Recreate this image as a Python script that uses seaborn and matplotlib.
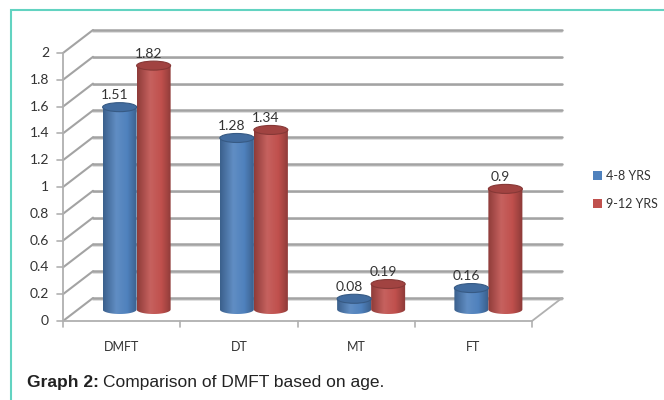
import numpy as np
import pandas as pd
import matplotlib
matplotlib.use("Agg")
import matplotlib.pyplot as plt
import seaborn as sns
from matplotlib.patches import Ellipse, Rectangle, PathPatch, Patch
from matplotlib.path import Path
from matplotlib.colors import LinearSegmentedColormap, to_rgb

# ---- data ----
categories = ["DMFT", "DT", "MT", "FT"]
groups = ["4-8 YRS", "9-12 YRS"]
values_4_8 = [1.51, 1.28, 0.08, 0.16]
values_9_12 = [1.82, 1.34, 0.19, 0.90]
y_ticks = [0, 0.2, 0.4, 0.6, 0.8, 1.0, 1.2, 1.4, 1.6, 1.8, 2.0]
y_tick_labels = ["0", "0.2", "0.4", "0.6", "0.8", "1", "1.2", "1.4", "1.6", "1.8", "2"]
caption_bold = "Graph 2:"
caption_text = "Comparison of DMFT based on age."

df = pd.DataFrame({
    "category": categories * 2,
    "group": [groups[0]] * 4 + [groups[1]] * 4,
    "value": values_4_8 + values_9_12,
})

sns.set_theme(style="white")
plt.rcParams["font.family"] = ["Lato", "DejaVu Sans"]

W, H = 664, 400
fig = plt.figure(figsize=(W / 100, H / 100), dpi=100)
ax = fig.add_axes([0, 0, 1, 1])

# pixel scale of the chart's middle (bar) plane
sx = 117.25          # px per category
sy = 134.0           # px per value unit
x0_px = 78.0         # left edge of bar plane, px from left
y0_px = 90.5         # value 0 of bar plane, px from bottom
xmin = -0.5 - x0_px / sx
ymin = -y0_px / sy

# depth offset between bar plane and front/back planes
dx = 15 / sx
dy = 11.5 / sy

palette = ["#4F81BD", "#C0504D"]
sns.barplot(data=df, x="category", y="value", hue="group", palette=palette,
            saturation=1, width=0.58, errorbar=None, legend=False, ax=ax, zorder=3)

grid_c = "#a3a3a3"
shadow_c = "#d9d9d9"
axis_c = "#b0b0b0"
text_c = "#333333"

# back wall gridlines
for t in y_ticks:
    ax.plot([-0.5 + dx, 3.5 + dx], [t + dy - 1.6 / sy] * 2, color=shadow_c, lw=1.2, zorder=1)
    ax.plot([-0.5 + dx, 3.5 + dx], [t + dy] * 2, color=grid_c, lw=1.8, zorder=1.1)
    # left wall diagonals
    ax.plot([-0.5 - dx, -0.5 + dx], [t - dy, t + dy], color=grid_c, lw=1.5, zorder=1.1)
    # tick marks on the front axis
    ax.plot([-0.5 - dx - 6 / sx, -0.5 - dx], [t - dy] * 2, color=axis_c, lw=1.2, zorder=1.1)
for t, lab in zip(y_ticks, y_tick_labels):
    ax.text(-0.5 - dx - 14 / sx, t - dy, lab, ha="right", va="center",
            fontsize=10, color=text_c)

# front vertical axis
ax.plot([-0.5 - dx] * 2, [-dy, 2 - dy], color=axis_c, lw=1.3, zorder=1.2)
# floor: front edge and right edge
ax.plot([-0.5 - dx, 3.5 - dx], [-dy, -dy], color=axis_c, lw=1.3, zorder=1.2)
ax.plot([3.5 - dx, 3.5 + dx], [-dy, dy], color=axis_c, lw=1.3, zorder=1.2)
for k in range(5):
    xk = -0.5 + k - dx
    ax.plot([xk, xk], [-dy, -dy - 6 / sy], color=axis_c, lw=1.2, zorder=1.2)

# category labels on the front plane
for i, c in enumerate(categories):
    ax.text(i - dx, (53 - y0_px) / sy, c, ha="center", va="center",
            fontsize=9, color=text_c)

# cylinder shading for every bar
def shade(rgb, f):
    rgb = np.array(rgb)
    if f < 1:
        return tuple(rgb * f)
    return tuple(rgb + (1 - rgb) * (f - 1))

eh = 9 / sy  # ellipse height in value units
bars = [p for p in ax.patches if isinstance(p, Rectangle) and p.get_height() > 0]
for p in bars:
    bx, bw, bh = p.get_x(), p.get_width(), p.get_height()
    base = to_rgb(p.get_facecolor())
    p.set_visible(False)
    cmap = LinearSegmentedColormap.from_list(
        "cyl", [(0, shade(base, 0.74)), (0.38, shade(base, 1.10)),
                (0.7, shade(base, 1.0)), (1, shade(base, 0.72))])
    ang = np.linspace(np.pi, 2 * np.pi, 40)
    arc_x = bx + bw / 2 + bw / 2 * np.cos(ang)
    arc_y = eh / 2 * np.sin(ang)
    verts = [(bx, bh), (bx, 0)] + list(zip(arc_x, arc_y)) + [(bx + bw, bh), (bx, bh)]
    codes = [Path.MOVETO] + [Path.LINETO] * (len(verts) - 2) + [Path.CLOSEPOLY]
    body = PathPatch(Path(verts, codes), facecolor="none", edgecolor="none", zorder=3)
    ax.add_patch(body)
    grad = np.linspace(0, 1, 256).reshape(1, -1)
    im = ax.imshow(grad, extent=[bx, bx + bw, -eh / 2, bh], aspect="auto",
                   cmap=cmap, zorder=3, interpolation="bilinear")
    im.set_clip_path(body)
    top = Ellipse((bx + bw / 2, bh), bw, eh, facecolor=shade(base, 0.84),
                  edgecolor=shade(base, 0.7), lw=0.8, zorder=4)
    ax.add_patch(top)
    ax.annotate(f"{bh:g}", (bx + bw / 2, bh), xytext=(-5, 12),
                textcoords="offset pixels", ha="center", va="center",
                fontsize=10, color=text_c, zorder=5)

ax.set_xlim(xmin, xmin + W / sx)
ax.set_ylim(ymin, ymin + H / sy)
ax.set_axis_off()

# legend
handles = [Patch(facecolor=c, edgecolor="none") for c in palette]
fig.legend(handles, groups, loc="center left",
           bbox_to_anchor=(585 / W, (H - 190) / H), frameon=False,
           fontsize=9, handlelength=0.75, handleheight=0.75,
           handletextpad=0.3, labelspacing=1.25, labelcolor=text_c,
           borderaxespad=0.2)

# outer frame
fig.patches.append(Rectangle((11 / W, -0.05), 1.1, (H - 10) / H + 0.05,
                             transform=fig.transFigure, facecolor="none",
                             edgecolor="#62d3c1", lw=1.5, zorder=0))

# caption
renderer = fig.canvas.get_renderer()
t1 = fig.text(27 / W, (H - 383) / H, caption_bold, fontsize=12.5, fontweight="bold",
              family=["Liberation Sans"], color="#222222", va="center")
bb = t1.get_window_extent(renderer=renderer)
fig.text((bb.x1 + 4) / W, (H - 383) / H, caption_text, fontsize=12.5,
         family=["Liberation Sans"], color="#222222", va="center")

fig.savefig("out.png", dpi=100)
